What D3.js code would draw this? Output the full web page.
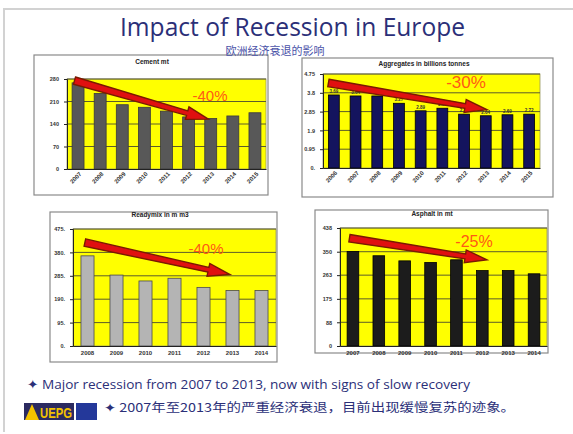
<!DOCTYPE html>
<html>
<head>
<meta charset="utf-8">
<script src="https://cdn.jsdelivr.net/npm/d3@7"></script>
<style>
  html, body { margin: 0; padding: 0; background: #ffffff; }
  svg { display: block; }
</style>
</head>
<body>
<svg id="slide" width="573" height="434"></svg>
<script>
// ---- Data ----
const cementYears = ["2007","2008","2009","2010","2011","2012","2013","2014","2015"];
const cementValues = [268, 235, 200, 192, 180, 162, 157, 165, 175];
const cementTicks = [0, 70, 140, 210, 280];

const aggYears = ["2006","2007","2008","2009","2010","2011","2012","2013","2014","2015"];
const aggValues = [3.69, 3.64, 3.64, 3.27, 2.89, 3.02, 2.72, 2.64, 2.69, 2.72];
const aggTicks = [0, 0.95, 1.9, 2.85, 3.8, 4.75];

const readyYears = ["2008","2009","2010","2011","2012","2013","2014"];
const readyValues = [366, 288, 264, 275, 238, 225, 225];
const readyTicks = [0, 95, 190, 285, 380, 475];

const asphaltYears = ["2007","2008","2009","2010","2011","2012","2013","2014"];
const asphaltValues = [351, 335, 316, 310, 320, 280, 280, 268];
const asphaltTicks = [0, 88, 175, 263, 350, 438];

const svg = d3.select("#slide");

// slide frame
svg.append("path")
  .attr("d", "M4,432 L4,9 L573,9")
  .attr("fill", "none").attr("stroke", "#d2d2d2").attr("stroke-width", 2);

// slide heading
svg.append("text")
  .attr("x", 120).attr("y", 36)
  .attr("textLength", 345).attr("lengthAdjust", "spacingAndGlyphs")
  .attr("font-family", "'Open Sans', 'DejaVu Sans', sans-serif")
  .attr("font-size", 25)
  .attr("fill", "#2b2f78")
  .text("Impact of Recession in Europe");

// draw one bar panel
function panel(opt) {
  const g = svg.append("g");
  const b = opt.box;
  g.append("rect")
    .attr("x", b[0]).attr("y", b[1]).attr("width", b[2] - b[0]).attr("height", b[3] - b[1])
    .attr("fill", "#ffffff").attr("stroke", "#8a8a8a").attr("stroke-width", 1.2);

  const p = opt.plot;
  const x = d3.scaleBand().domain(opt.cats).range([p[0], p[2]]).paddingInner(opt.pad).paddingOuter(opt.pad / 2);
  const y = d3.scaleLinear().domain([0, opt.ticks[opt.ticks.length - 1]]).range([p[3], p[1]]);

  g.append("rect")
    .attr("x", p[0]).attr("y", p[1]).attr("width", p[2] - p[0]).attr("height", p[3] - p[1])
    .attr("fill", "#ffff00").attr("stroke", "#9a9a60").attr("stroke-width", 0.8);

  // horizontal grid
  g.selectAll(".grid").data(opt.ticks.slice(1)).enter().append("line")
    .attr("x1", p[0]).attr("x2", p[2])
    .attr("y1", d => y(d)).attr("y2", d => y(d))
    .attr("stroke", "#4a4a30").attr("stroke-width", 0.9);

  // bars
  g.selectAll(".bar").data(opt.values).enter().append("rect")
    .attr("x", (d, i) => x(opt.cats[i]))
    .attr("y", d => y(d))
    .attr("width", x.bandwidth())
    .attr("height", d => y(0) - y(d))
    .attr("fill", opt.barColor)
    .attr("stroke", opt.barStroke).attr("stroke-width", 0.8);

  // value labels
  if (opt.valueLabels) {
    g.selectAll(".vl").data(opt.values).enter().append("text")
      .attr("x", (d, i) => x(opt.cats[i]) + x.bandwidth() / 2)
      .attr("y", d => y(d) - 2)
      .attr("text-anchor", "middle")
      .attr("font-family", "Arial, 'Liberation Sans', sans-serif")
      .attr("font-size", 4.5).attr("font-weight", "bold")
      .attr("fill", "#333")
      .text(d => d.toFixed(2));
  }

  // y axis
  const ya = d3.axisLeft(y).tickValues(opt.ticks).tickSize(3).tickPadding(5).tickFormat(opt.fmt);
  const yg = g.append("g").attr("transform", `translate(${p[0]},0)`).call(ya);
  yg.select(".domain").attr("stroke", "#222");
  yg.selectAll("line").attr("stroke", "#222");
  yg.selectAll("text")
    .attr("font-family", "Arial, 'Liberation Sans', sans-serif")
    .attr("font-size", 5.5).attr("font-weight", "bold").attr("fill", "#333");

  // x axis
  const xa = d3.axisBottom(x).tickSize(0).tickPadding(opt.rotate ? 3 : 5);
  const xg = g.append("g").attr("transform", `translate(0,${p[3]})`).call(xa);
  xg.select(".domain").attr("stroke", "#222");
  const xt = xg.selectAll("text")
    .attr("font-family", "Arial, 'Liberation Sans', sans-serif")
    .attr("font-size", 6).attr("font-weight", "bold").attr("fill", "#333");
  if (opt.rotate) {
    xt.attr("text-anchor", "end")
      .attr("transform", "rotate(-45)")
      .attr("dx", "-0.2em").attr("dy", "0.6em");
  }

  // panel caption
  g.append("text")
    .attr("x", opt.title[1]).attr("y", opt.title[2])
    .attr("text-anchor", "middle")
    .attr("font-family", "Arial, 'Liberation Sans', sans-serif")
    .attr("font-size", 6.5).attr("font-weight", "bold").attr("fill", "#222")
    .text(opt.title[0]);

  // trend arrow
  const a = opt.arrow;
  const x0 = x(opt.cats[a[0]]) + x.bandwidth() * a[1], y0 = y(a[2]);
  const x1 = x(opt.cats[a[3]]) + x.bandwidth() * a[4], y1 = y(a[5]);
  const ang = Math.atan2(y1 - y0, x1 - x0);
  const len = Math.hypot(x1 - x0, y1 - y0);
  const sw = 3.4, hw = 6.5, hl = 22;
  const pts = [[0, -sw * 1.1], [len - hl, -sw * 0.7], [len - hl, -hw], [len, 0], [len - hl, hw], [len - hl, sw * 0.7], [0, sw * 1.1]];
  g.append("polygon")
    .attr("points", pts.map(q => q.join(",")).join(" "))
    .attr("transform", `translate(${x0},${y0}) rotate(${ang * 180 / Math.PI})`)
    .attr("fill", "#e01010").attr("stroke", "#7a1a00").attr("stroke-width", 1.4);

  g.append("text")
    .attr("x", opt.pct[1]).attr("y", opt.pct[2])
    .attr("text-anchor", "middle")
    .attr("font-family", "Arial, 'Liberation Sans', sans-serif")
    .attr("font-size", opt.pct[3]).attr("fill", "#ff5a14")
    .text(opt.pct[0]);
}

panel({
  box: [34, 55, 268, 195], plot: [67, 79, 266, 169],
  cats: cementYears, values: cementValues, ticks: cementTicks, pad: 0.46,
  barColor: "#585858", barStroke: "#3a3a3a", rotate: true,
  fmt: d3.format("d"),
  title: ["Cement mt", 152, 64],
  arrow: [0, 0.2, 275, 6, 0.3, 155],
  pct: ["-40%", 210, 101, 15]
});

panel({
  box: [302, 58, 553, 197], plot: [323, 74, 540, 168],
  cats: aggYears, values: aggValues, ticks: aggTicks, pad: 0.5,
  barColor: "#14145e", barStroke: "#000", rotate: true, valueLabels: true,
  fmt: d => d === 0 ? "0." : d3.format(".3~f")(d),
  title: ["Aggregates in billions tonnes", 424, 66],
  arrow: [0, 0.0, 4.3, 7, 0.6, 2.95],
  pct: ["-30%", 466, 88, 17]
});

panel({
  box: [50, 212, 277, 362], plot: [73, 229, 276, 346],
  cats: readyYears, values: readyValues, ticks: readyTicks, pad: 0.55,
  barColor: "#b4b4b4", barStroke: "#4a4a4a", rotate: false,
  fmt: d => d + ".",
  title: ["Readymix in m m3", 160, 217],
  arrow: [0, 0.3, 420, 5, 0.3, 290],
  pct: ["-40%", 206, 254, 15]
});

panel({
  box: [315, 210, 548, 353], plot: [340, 228, 547, 346],
  cats: asphaltYears, values: asphaltValues, ticks: asphaltTicks, pad: 0.55,
  barColor: "#1c1c1c", barStroke: "#000", rotate: false,
  fmt: d3.format("d"),
  title: ["Asphalt in mt", 432, 216],
  arrow: [0, 0.2, 400, 5, 0.9, 320],
  pct: ["-25%", 474, 247, 16]
});

// Chinese subheading sits over the first panel's border
svg.append("text")
  .attr("x", 275).attr("y", 55)
  .attr("text-anchor", "middle")
  .attr("font-family", "'Noto Sans CJK SC', sans-serif")
  .attr("font-size", 11).attr("fill", "#4a52a8")
  .text("欧洲经济衰退的影响");

// bullet notes
svg.append("text")
  .attr("x", 27).attr("y", 389)
  .attr("textLength", 443).attr("lengthAdjust", "spacingAndGlyphs")
  .attr("font-family", "'Open Sans', 'DejaVu Sans', sans-serif")
  .attr("font-size", 13).attr("fill", "#2b2f78")
  .text("\u2726  Major recession from 2007 to 2013, now with signs of slow recovery");

svg.append("text")
  .attr("x", 104).attr("y", 412)
  .attr("textLength", 411).attr("lengthAdjust", "spacingAndGlyphs")
  .attr("font-family", "'Noto Sans CJK SC', sans-serif")
  .attr("font-size", 12).attr("fill", "#2b2f78")
  .text("\u2726  2007年至2013年的严重经济衰退，目前出现缓慢复苏的迹象。");

// UEPG logo
const logo = svg.append("g");
logo.append("rect").attr("x", 24).attr("y", 403).attr("width", 50).attr("height", 17).attr("fill", "#2b2a60");
logo.append("polygon").attr("points", "25,420 32,404 39,420").attr("fill", "#f2c200");
logo.append("text").attr("x", 40).attr("y", 418)
  .attr("textLength", 32).attr("lengthAdjust", "spacingAndGlyphs")
  .attr("font-family", "Arial, 'Liberation Sans', sans-serif").attr("font-weight", "bold")
  .attr("font-size", 14).attr("fill", "#f2c200").text("UEPG");
logo.append("rect").attr("x", 76).attr("y", 403).attr("width", 21).attr("height", 17).attr("fill", "#24389a");
</script>
</body>
</html>
